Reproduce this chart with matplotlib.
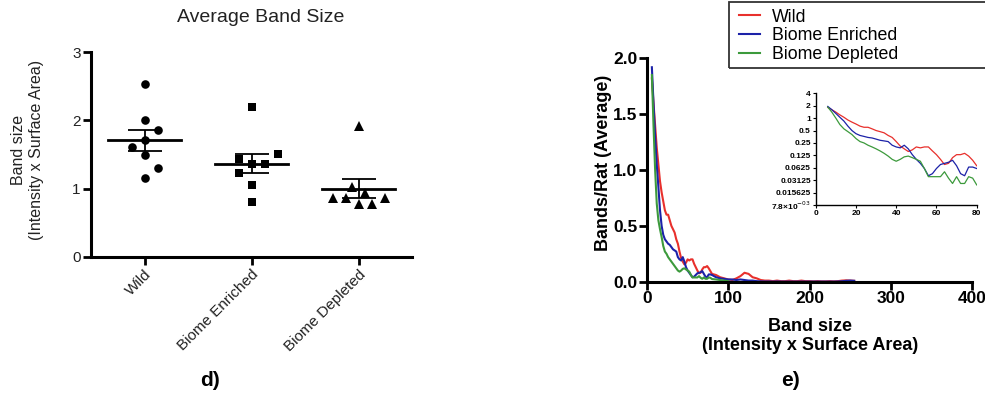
import numpy as np
import matplotlib
matplotlib.use('Agg')
import matplotlib.pyplot as plt
from matplotlib.patches import Rectangle

plt.rcParams['font.family'] = ['Liberation Sans', 'DejaVu Sans']

# ---------------- data: panel d ----------------
categories = ['Wild', 'Biome Enriched', 'Biome Depleted']
wild = [1.15, 1.30, 1.50, 1.61, 1.71, 1.86, 2.00, 2.53]
enriched = [0.80, 1.05, 1.36, 1.36, 1.23, 1.43, 1.51, 2.20]
depleted = [0.77, 0.77, 0.86, 0.86, 0.87, 0.93, 1.03, 1.92]
yticks_d = [0, 1, 2, 3]

# ---------------- data: panel e ----------------
band_size = [6, 8, 10, 12, 14, 16, 18, 20, 22, 24, 26, 28, 30, 32, 34, 36, 38, 40,
             42, 44, 46, 48, 50, 52, 54, 56, 58, 60, 62, 64, 66, 68, 70, 72, 74, 76,
             78, 80, 85, 90, 95, 100, 105, 110, 115, 120, 125, 130, 135, 140, 145,
             150, 155, 160, 165, 170, 175, 180, 185, 190, 195, 200, 205, 210, 215,
             220, 225, 230, 235, 240, 245, 250, 255]
wild_bands = [1.82, 1.60, 1.40, 1.20, 1.05, 0.90, 0.80, 0.72, 0.64, 0.60, 0.60, 0.55,
              0.50, 0.47, 0.44, 0.38, 0.34, 0.27, 0.21, 0.18, 0.155, 0.17, 0.20, 0.19,
              0.20, 0.20, 0.16, 0.13, 0.10, 0.075, 0.08, 0.11, 0.13, 0.13, 0.14, 0.12,
              0.095, 0.07,
              0.06, 0.04, 0.03, 0.02, 0.015, 0.03, 0.05, 0.08, 0.07, 0.04, 0.03, 0.015,
              0.01, 0.01, 0.005, 0.01, 0.005, 0.005, 0.01, 0.005, 0.005, 0.01, 0.005,
              0.005, 0.003, 0.005, 0.003, 0.003, 0.005, 0.003, 0.005, 0.01, 0.012,
              0.01, 0.008]
enriched_bands = [1.92, 1.60, 1.30, 1.05, 0.85, 0.64, 0.50, 0.42, 0.38, 0.36, 0.34, 0.33,
                  0.31, 0.29, 0.28, 0.27, 0.22, 0.20, 0.19, 0.22, 0.18, 0.13, 0.10, 0.08,
                  0.06, 0.04, 0.045, 0.06, 0.075, 0.08, 0.085, 0.095, 0.07, 0.045, 0.04,
                  0.065, 0.065, 0.06,
                  0.04, 0.03, 0.025, 0.02, 0.02, 0.015, 0.02, 0.015, 0.01, 0.01, 0.005,
                  0.003, 0.002, 0.002, 0.001, 0.002, 0.001, 0.001, 0.001, 0.001, 0.001,
                  0.001, 0.001, 0.001, 0.001, 0.001, 0.001, 0.001, 0.001, 0.001, 0.002,
                  0.004, 0.008, 0.01, 0.008]
depleted_bands = [1.85, 1.40, 1.00, 0.70, 0.55, 0.47, 0.40, 0.32, 0.27, 0.25, 0.22, 0.20,
                  0.18, 0.16, 0.14, 0.12, 0.10, 0.09, 0.10, 0.115, 0.12, 0.11, 0.10, 0.09,
                  0.06, 0.038, 0.038, 0.038, 0.038, 0.05, 0.035, 0.026, 0.038, 0.026,
                  0.026, 0.038, 0.035, 0.024,
                  0.02, 0.015, 0.01, 0.005]
series_names = ['Wild', 'Biome Enriched', 'Biome Depleted']
inset_yticks = [2**-7, 2**-6, 2**-5, 2**-4, 2**-3, 2**-2, 2**-1, 1, 2, 4]
inset_ylabels = ['7.8\u00d710$^{-03}$', '0.015625', '0.03125', '0.0625', '0.125',
                 '0.25', '0.5', '1', '2', '4']

# ---------------- figure ----------------
W, H = 985, 396
fig = plt.figure(figsize=(W / 100, H / 100), dpi=100)


def fbox(x0, y0, x1, y1):
    """pixel box (top-left origin) -> figure fraction rect"""
    return [x0 / W, 1 - y1 / H, (x1 - x0) / W, (y1 - y0) / H]


txt = '#222222'

# ---------- panel d ----------
axd = fig.add_axes(fbox(91, 52, 412, 257))
axd.set_xlim(-0.5, 2.5)
axd.set_ylim(0, 3)
for s in ['top', 'right']:
    axd.spines[s].set_visible(False)
for s in ['left', 'bottom']:
    axd.spines[s].set_linewidth(2.2)
axd.tick_params(axis='both', direction='out', length=6, width=2, labelsize=11,
                labelcolor=txt, pad=1.5)
axd.set_yticks(yticks_d)
axd.set_xticks(range(len(categories)))
axd.set_xticklabels(categories, rotation=45, ha='right', rotation_mode='anchor')

fig.canvas.draw()
bb = axd.get_window_extent()
px_x = bb.width / 3.0
px_y = bb.height / 3.0


def swarm(values, dist=12.5, step=13.0):
    """greedy scatter-dot-plot layout (pixel distances), returns x offsets"""
    placed = []
    offs = []
    mults = [1, 0.5, 2, 1.5, 3, 2.5, 4, 3.5]
    for v in values:
        npos = sum(1 for o, _ in placed if o > 0)
        nneg = sum(1 for o, _ in placed if o < 0)
        cands = [0.0]
        for k in mults:
            if npos > nneg:
                cands += [-k * step, k * step]
            else:
                cands += [k * step, -k * step]
        for c in cands:
            ok = True
            for o, pv in placed:
                if np.hypot(c - o, (v - pv) * px_y) < dist:
                    ok = False
                    break
            if ok:
                break
        placed.append((c, v))
        offs.append(c / px_x)
    return np.array(offs)


markers = ['o', 's', '^']
msizes = [6.2, 5.6, 7.6]
for i, (vals, m, ms) in enumerate(zip([wild, enriched, depleted], markers, msizes)):
    v = np.array(vals)
    off = swarm(vals)
    axd.plot(i + off, v, linestyle='none', marker=m, markersize=ms, color='black',
             markeredgewidth=0, zorder=3)
    mean = v.mean()
    sem = v.std(ddof=1) / np.sqrt(len(v))
    axd.plot([i - 0.34, i + 0.34], [mean, mean], color='black', lw=2, zorder=4)
    axd.errorbar([i], [mean], yerr=[sem], color='black', lw=1.3, capsize=12,
                 capthick=1.3, zorder=4, fmt='none')

fig.text(260.5 / W, 1 - 17 / H, 'Average Band Size', ha='center', va='center',
         fontsize=14, color=txt)
fig.text(28 / W, 1 - 150 / H, 'Band size\n(Intensity x Surface Area)', ha='center',
         va='center', rotation=90, fontsize=11.5, color=txt, linespacing=1.25)
fig.text(210 / W, 1 - 381 / H, 'd)', ha='center', va='center', fontsize=15,
         fontweight='bold')

# ---------- panel e ----------
colors = ['#e8302c', '#1c22a8', '#3c9a3c']
all_series = [wild_bands, enriched_bands, depleted_bands]

axe = fig.add_axes(fbox(647, 58.3, 972, 281.7))
axe.set_xlim(0, 400)
axe.set_ylim(0, 2.0)
for s in ['top', 'right']:
    axe.spines[s].set_visible(False)
for s in ['left', 'bottom']:
    axe.spines[s].set_linewidth(2.2)
axe.tick_params(axis='both', direction='out', length=6, width=2, labelsize=12.5,
                pad=1)
axe.set_xticks([0, 100, 200, 300, 400])
axe.set_yticks([0, 0.5, 1.0, 1.5, 2.0])
axe.set_yticklabels(['0.0', '0.5', '1.0', '1.5', '2.0'])
for lab in axe.get_xticklabels() + axe.get_yticklabels():
    lab.set_fontweight('bold')
handles = []
for ys, c, name in zip(all_series, colors, series_names):
    xs = band_size[:len(ys)]
    h, = axe.plot(xs, ys, color=c, lw=1.5, label=name, clip_on=False)
    handles.append(h)

fig.text(604 / W, 1 - 163 / H, 'Bands/Rat (Average)', ha='center', va='center',
         rotation=90, fontsize=13, fontweight='bold')
fig.text(810 / W, 1 - 336 / H, 'Band size\n(Intensity x Surface Area)', ha='center',
         va='center', fontsize=13, fontweight='bold', linespacing=1.2)
fig.text(790 / W, 1 - 381 / H, 'e)', ha='center', va='center', fontsize=15,
         fontweight='bold')

# inset
axi = fig.add_axes(fbox(815.7, 93.3, 976.7, 205))
axi.set_yscale('log', base=2)
axi.set_xlim(0, 80)
axi.set_ylim(2**-7, 4)
for s in ['top', 'right']:
    axi.spines[s].set_visible(False)
for s in ['left', 'bottom']:
    axi.spines[s].set_linewidth(1.0)
axi.set_xticks([0, 20, 40, 60, 80])
axi.set_yticks(inset_yticks)
axi.set_yticklabels(inset_ylabels)
axi.yaxis.set_minor_locator(matplotlib.ticker.NullLocator())
axi.tick_params(axis='both', direction='out', length=2.5, width=0.8, labelsize=6,
                pad=1)
for lab in axi.get_xticklabels() + axi.get_yticklabels():
    lab.set_fontweight('bold')
axi.patch.set_alpha(0)
for ys, c in zip(all_series, colors):
    xs = np.array(band_size[:len(ys)])
    yv = np.array(ys)
    m = xs <= 80
    axi.plot(xs[m], yv[m], color=c, lw=0.9)

# legend
fig.patches.append(Rectangle((729 / W, 1 - 68 / H), (990 - 729) / W, 66 / H,
                             transform=fig.transFigure, fill=False,
                             edgecolor='#333333', lw=1.3))
fig.legend(handles=handles, labels=series_names, loc='upper left',
           bbox_to_anchor=(735 / W, 1 - 5 / H), frameon=False, fontsize=12.8,
           handlelength=1.2, handletextpad=0.7, labelspacing=0.1,
           borderpad=0.2, borderaxespad=0)

fig.savefig('out.png', dpi=100)
